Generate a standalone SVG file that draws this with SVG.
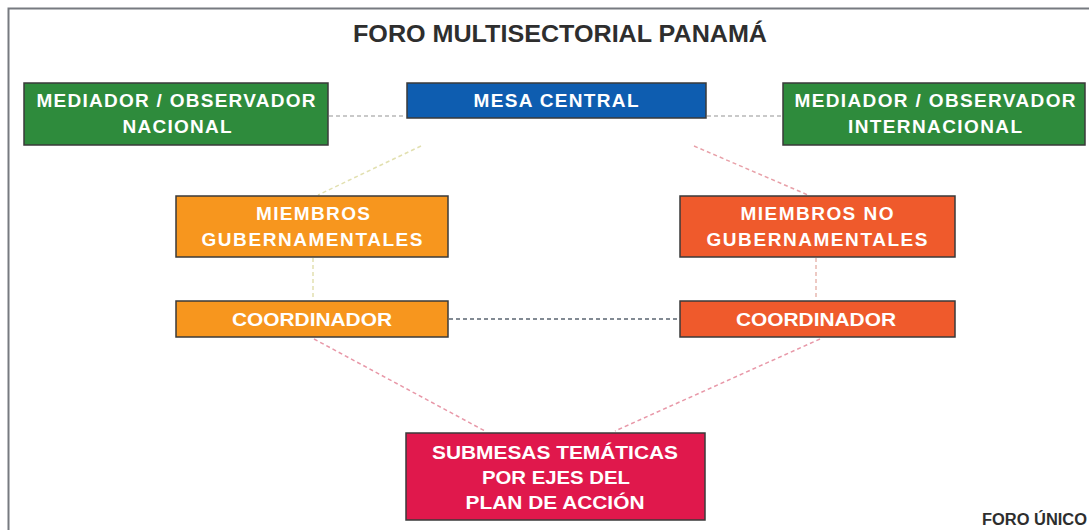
<svg xmlns="http://www.w3.org/2000/svg" width="1089" height="530" viewBox="0 0 1089 530">
<style>
.box{stroke:#3a3a3a;stroke-width:1.5}
.t{font-family:"Liberation Sans",Arial,sans-serif;font-weight:bold;font-size:19px;fill:#ffffff;text-anchor:middle}
.title{font-family:"Liberation Sans",Arial,sans-serif;font-weight:bold;font-size:24px;fill:#2e2e2e;text-anchor:middle}
.foot{font-family:"Liberation Sans",Arial,sans-serif;font-weight:bold;font-size:16px;fill:#2e2e2e}
.c{fill:none;stroke-width:1.5;stroke-dasharray:4 3}
</style>
<rect width="1089" height="530" fill="#ffffff"/>
<path d="M8.5 530 V8.5 H1089" fill="none" stroke="#777a80" stroke-width="2"/>
<text class="title" x="560" y="42" textLength="414" lengthAdjust="spacingAndGlyphs">FORO MULTISECTORIAL PANAMÁ</text>
<g id="connectors">
<line class="c" x1="329" y1="116" x2="406" y2="116" stroke="#b8b8b8"/>
<line class="c" x1="707" y1="116" x2="782" y2="116" stroke="#b8b8b8"/>
<line class="c" x1="421" y1="146" x2="318" y2="195" stroke="#e2e0b0"/>
<line class="c" x1="694" y1="146" x2="808" y2="195" stroke="#e8a0a8"/>
<line class="c" x1="313" y1="258" x2="313" y2="299" stroke="#e2e0b0"/>
<line class="c" x1="816" y1="258" x2="816" y2="299" stroke="#e8b8b0"/>
<line class="c" x1="449" y1="319" x2="679" y2="319" stroke="#5a6470" stroke-dasharray="3 2"/>
<line class="c" x1="314" y1="339" x2="485" y2="431" stroke="#e898a8"/>
<line class="c" x1="820" y1="339" x2="615" y2="431" stroke="#e898a8"/>
</g>
<g id="mediador-nacional">
<rect class="box" x="24" y="83" width="304" height="62" fill="#2e8b3c"/>
<text class="t" x="176" y="107" textLength="279" lengthAdjust="spacing">MEDIADOR / OBSERVADOR</text>
<text class="t" x="177" y="133" textLength="109" lengthAdjust="spacing">NACIONAL</text>
</g>
<g id="mesa-central">
<rect class="box" x="407" y="83" width="299" height="35" fill="#0e5db0"/>
<text class="t" x="556" y="107" textLength="165" lengthAdjust="spacing">MESA CENTRAL</text>
</g>
<g id="mediador-internacional">
<rect class="box" x="783" y="83" width="302" height="62" fill="#2e8b3c"/>
<text class="t" x="935" y="107" textLength="281" lengthAdjust="spacing">MEDIADOR / OBSERVADOR</text>
<text class="t" x="935" y="133" textLength="174" lengthAdjust="spacing">INTERNACIONAL</text>
</g>
<g id="miembros-gubernamentales">
<rect class="box" x="176" y="196" width="272" height="61" fill="#f7961e"/>
<text class="t" x="313" y="220" textLength="114" lengthAdjust="spacing">MIEMBROS</text>
<text class="t" x="312" y="246" textLength="221" lengthAdjust="spacing">GUBERNAMENTALES</text>
</g>
<g id="miembros-no-gubernamentales">
<rect class="box" x="680" y="196" width="275" height="61" fill="#ef5a2c"/>
<text class="t" x="817" y="220" textLength="153" lengthAdjust="spacing">MIEMBROS NO</text>
<text class="t" x="817" y="246" textLength="221" lengthAdjust="spacing">GUBERNAMENTALES</text>
</g>
<g id="coordinador-gub">
<rect class="box" x="176" y="301" width="272" height="36" fill="#f7961e"/>
<text class="t" x="312" y="326" textLength="160" lengthAdjust="spacingAndGlyphs">COORDINADOR</text>
</g>
<g id="coordinador-nogub">
<rect class="box" x="680" y="301" width="275" height="36" fill="#ef5a2c"/>
<text class="t" x="816" y="326" textLength="160" lengthAdjust="spacingAndGlyphs">COORDINADOR</text>
</g>
<g id="submesas">
<rect class="box" x="406" y="433" width="299" height="87" fill="#e0184c"/>
<text class="t" x="555" y="459" textLength="246" lengthAdjust="spacingAndGlyphs">SUBMESAS TEMÁTICAS</text>
<text class="t" x="556" y="484" textLength="148" lengthAdjust="spacingAndGlyphs">POR EJES DEL</text>
<text class="t" x="555" y="509" textLength="179" lengthAdjust="spacingAndGlyphs">PLAN DE ACCIÓN</text>
</g>
<text class="foot" x="982" y="525" textLength="105" lengthAdjust="spacingAndGlyphs">FORO ÚNICO</text>
</svg>
